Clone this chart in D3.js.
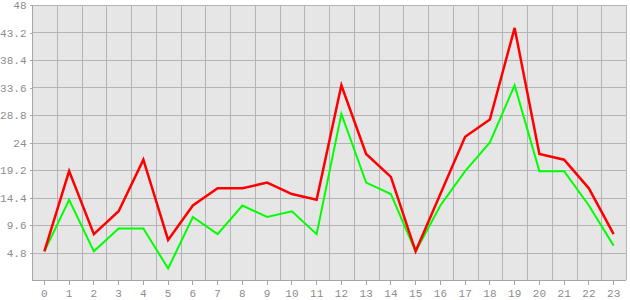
<!DOCTYPE html>
<html>
<head>
<meta charset="utf-8">
<script src="https://d3js.org/d3.v7.min.js"></script>
<style>
  body { margin: 0; background: #fff; }
  svg text { font-family: "Liberation Mono", "DejaVu Sans Mono", monospace; font-size: 11px; fill: #8c8c8c; }
</style>
</head>
<body>
<div id="chart"></div>
<script>
// hours along the x axis
const hours = d3.range(0, 24).map(String);
const yTicks = [4.8, 9.6, 14.4, 19.2, 24, 28.8, 33.6, 38.4, 43.2, 48];

// series values
const redValues = [5, 19, 8, 12, 21, 7, 13, 16, 16, 17, 15, 14, 34, 22, 18, 5, 15, 25, 28, 44, 22, 21, 16, 8];
const greenValues = [5, 14, 5, 9, 9, 2, 11, 8, 13, 11, 12, 8, 29, 17, 15, 5, 13, 19, 24, 34, 19, 19, 13, 6];

const width = 630, height = 300;
const margin = { top: 5, right: 4, bottom: 20, left: 32 };

const svg = d3.select("#chart").append("svg")
  .attr("width", width)
  .attr("height", height);

const x = d3.scaleBand()
  .domain(hours)
  .range([margin.left, width - margin.right]);

const y = d3.scaleLinear()
  .domain([0, 48])
  .range([height - margin.bottom, margin.top]);

// plot background
svg.append("rect")
  .attr("x", margin.left)
  .attr("y", margin.top)
  .attr("width", width - margin.right - margin.left)
  .attr("height", height - margin.bottom - margin.top)
  .attr("fill", "#e6e6e6");

// grid lines: vertical at band edges, horizontal at y ticks
const grid = svg.append("g")
  .attr("stroke", "#b4b4b4")
  .attr("stroke-width", 1)
  .attr("shape-rendering", "crispEdges");

grid.selectAll("line.v")
  .data(hours.slice(1).concat(["end"]))
  .enter().append("line")
  .attr("x1", (d, i) => Math.round(margin.left + x.step() * (i + 1)) + 0.5)
  .attr("x2", (d, i) => Math.round(margin.left + x.step() * (i + 1)) + 0.5)
  .attr("y1", margin.top)
  .attr("y2", height - margin.bottom);

grid.selectAll("line.h")
  .data(yTicks)
  .enter().append("line")
  .attr("x1", margin.left)
  .attr("x2", width - margin.right)
  .attr("y1", d => Math.round(y(d)) + 0.5)
  .attr("y2", d => Math.round(y(d)) + 0.5);

// axes
const yAxis = svg.append("g")
  .attr("transform", `translate(${margin.left + 0.5},0)`)
  .call(d3.axisLeft(y).tickValues(yTicks).tickSize(3).tickPadding(3).tickFormat(d => String(d)));

const xAxis = svg.append("g")
  .attr("transform", `translate(0,${height - margin.bottom + 0.5})`)
  .call(d3.axisBottom(x).tickSize(4).tickPadding(5).tickSizeOuter(0));

[yAxis, xAxis].forEach(ax => {
  ax.selectAll("path, line").attr("stroke", "#a6a6a6").attr("shape-rendering", "crispEdges");
  ax.selectAll("text").attr("fill", "#8c8c8c").style("font-size", "11px");
});
yAxis.select("path.domain").attr("d", `M0,${margin.top}V${height - margin.bottom}`);
xAxis.select("path.domain").attr("d", `M${margin.left},0H${width - margin.right}`);

// lines
const line = d3.line()
  .x((d, i) => x(hours[i]) + x.bandwidth() / 2)
  .y(d => y(d));

svg.append("path")
  .datum(greenValues)
  .attr("fill", "none")
  .attr("stroke", "#00ff00")
  .attr("stroke-width", 2)
  .attr("d", line);

svg.append("path")
  .datum(redValues)
  .attr("fill", "none")
  .attr("stroke", "#ff0000")
  .attr("stroke-width", 2.5)
  .attr("d", line);
</script>
</body>
</html>
